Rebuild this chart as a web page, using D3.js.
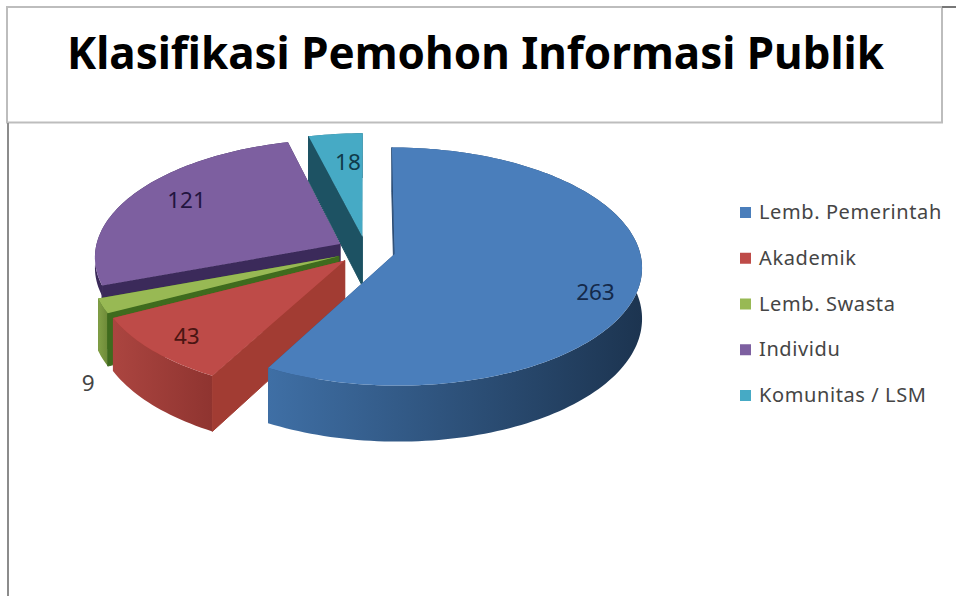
<!DOCTYPE html>
<html lang="en">

<head>
    <meta charset="UTF-8">
    <title>Klasifikasi Pemohon Informasi Publik</title>
    <script src="https://d3js.org/d3.v7.min.js"></script>
    <style>
        body {
            margin: 0;
            background: #fff;
        }

        .frame {
            fill: none;
            stroke: #bdbdbd;
            stroke-width: 2;
        }

        .title {
            font: bold 45px "Noto Sans", sans-serif;
            fill: #000;
            text-anchor: middle;
        }

        .legend text {
            font: 20px "Noto Sans", sans-serif;
            letter-spacing: 0.6px;
            fill: #454545;
        }

        .label {
            font: 22.5px "Noto Sans", sans-serif;
            text-anchor: middle;
            dominant-baseline: middle;
        }
    </style>
</head>

<body>
    <svg class="chart" width="956" height="596"></svg>

    <script>
        const titleText = "Klasifikasi Pemohon Informasi Publik";
        const categories = ["Lemb. Pemerintah", "Akademik", "Lemb. Swasta", "Individu", "Komunitas / LSM"];
        const values = [263, 43, 9, 121, 18];

        const topColors = ["#4a7ebb", "#be4b48", "#98b954", "#7d5fa0", "#46aac5"];
        const radialWallColors = ["#2c4d75", "#a23c33", "#3f6b1e", "#3b2a5a", "#1d5263"];
        const outerLight = ["#3f6fa5", "#ab4540", "#82a046", "#3b2a5a", "#2f7f96"];
        const outerDark = ["#1c3450", "#8f3430", "#6d8a38", "#3b2a5a", "#245f70"];
        const labelColors = ["#14294a", "#4a1512", "#444444", "#22143f", "#103a4a"];

        // purple rim is mostly hidden in the original, only a thin band shows
        const rimDepth = [1, 1, 1, 0.2, 1];

        // where the value labels sit on the pie plane: degrees clockwise from top, radius 1 = rim
        const labelAngle = [112.5, 224.2, 222.7, 299.8, 354.6];
        const labelRadius = [0.85, 0.85, 1.33, 0.76, 0.69];

        const svg = d3.select(".chart");

        // frame round the title, and the left edge going down
        svg.append("rect").attr("class", "frame")
            .attr("x", 7).attr("y", 7).attr("width", 935).attr("height", 115.5);
        svg.append("line").attr("x1", 8).attr("x2", 8).attr("y1", 123).attr("y2", 596)
            .attr("stroke", "#8c8c8c").attr("stroke-width", 2);
        svg.append("line").attr("x1", 942).attr("x2", 956).attr("y1", 7).attr("y2", 7)
            .attr("stroke", "#777").attr("stroke-width", 2);

        svg.append("text").attr("class", "title")
            .attr("x", 475.5).attr("y", 69)
            .attr("textLength", 817).attr("lengthAdjust", "spacingAndGlyphs")
            .text(titleText);

        // pie plane to screen, with a little perspective so the front looks bigger
        const cx = 366, cy = 250.5, persp = 0.105;
        const sx = d3.scaleLinear().domain([0, 1]).range([0, 245]);
        const sy = d3.scaleLinear().domain([0, 1]).range([0, 117]);
        const depth = 50;
        const explode = 0.12;

        function project(u, v, z) {
            const w = 1 - persp * v;
            return [cx + sx(u) / w, cy + (sy(v) + z * depth) / w];
        }

        const pie = d3.pie().sort(null).value(d => d);
        const arcs = pie(values).map((d, i) => ({ ...d, i: i }));
        const line = d3.line();

        function slicePoint(d, angle, r, z) {
            const mid = (d.startAngle + d.endAngle) / 2;
            const u = explode * Math.sin(mid) + r * Math.sin(angle);
            const v = -explode * Math.cos(mid) - r * Math.cos(angle);
            return project(u, v, z);
        }

        function rimAngles(d) {
            const n = Math.max(6, Math.ceil((d.endAngle - d.startAngle) * 40));
            return d3.range(n + 1).map(k => d.startAngle + (d.endAngle - d.startAngle) * k / n);
        }

        const defs = svg.append("defs");
        arcs.forEach(d => {
            const pts = rimAngles(d).map(a => slicePoint(d, a, 1, 0));
            const ext = d3.extent(pts, p => p[0]);
            const grad = defs.append("linearGradient")
                .attr("id", "outer" + d.i)
                .attr("gradientUnits", "userSpaceOnUse")
                .attr("x1", ext[0]).attr("x2", ext[1]).attr("y1", 0).attr("y2", 0);
            grad.append("stop").attr("offset", "0%").attr("stop-color", outerLight[d.i]);
            grad.append("stop").attr("offset", "100%").attr("stop-color", outerDark[d.i]);
        });

        function radialWall(d, angle) {
            return line([
                slicePoint(d, angle, 1, 0),
                slicePoint(d, angle, 0, 0),
                slicePoint(d, angle, 0, 1),
                slicePoint(d, angle, 1, 1)
            ]) + "Z";
        }

        function outerWall(d) {
            const angles = rimAngles(d);
            const up = angles.map(a => slicePoint(d, a, 1, 0));
            const down = angles.slice().reverse().map(a => slicePoint(d, a, 1, rimDepth[d.i]));
            return line(up.concat(down)) + "Z";
        }

        function topFace(d) {
            const pts = rimAngles(d).map(a => slicePoint(d, a, 1, 0));
            pts.push(slicePoint(d, d.endAngle, 0, 0));
            return line(pts) + "Z";
        }

        // back to front: teal, purple, green, red, blue
        const drawOrder = [4, 3, 2, 1, 0];
        const pieG = svg.append("g");

        drawOrder.forEach(i => {
            const d = arcs[i];
            const g = pieG.append("g");
            g.append("path").attr("d", radialWall(d, d.endAngle)).attr("fill", radialWallColors[i]);
            g.append("path").attr("d", outerWall(d)).attr("fill", `url(#outer${i})`);
            g.append("path").attr("d", radialWall(d, d.startAngle))
                .attr("fill", radialWallColors[i])
                .attr("stroke", radialWallColors[i]).attr("stroke-width", 1);
            g.append("path").attr("d", topFace(d)).attr("fill", topColors[i]);
        });

        // value labels
        svg.selectAll(".label")
            .data(arcs)
            .enter().append("text")
            .attr("class", "label")
            .attr("x", d => slicePoint(d, labelAngle[d.i] * Math.PI / 180, labelRadius[d.i], 0)[0])
            .attr("y", d => slicePoint(d, labelAngle[d.i] * Math.PI / 180, labelRadius[d.i], 0)[1])
            .attr("fill", d => labelColors[d.i])
            .text(d => d.data);

        // legend
        const legendY = d3.scalePoint().domain(categories).range([212, 395]);
        const legend = svg.append("g").attr("class", "legend")
            .selectAll("g")
            .data(categories)
            .enter().append("g")
            .attr("transform", d => `translate(740,${legendY(d)})`);

        legend.append("rect")
            .attr("y", -5).attr("width", 11).attr("height", 11)
            .attr("fill", (d, i) => topColors[i]);

        legend.append("text")
            .attr("x", 19).attr("y", 7)
            .text(d => d);
    </script>
</body>

</html>
